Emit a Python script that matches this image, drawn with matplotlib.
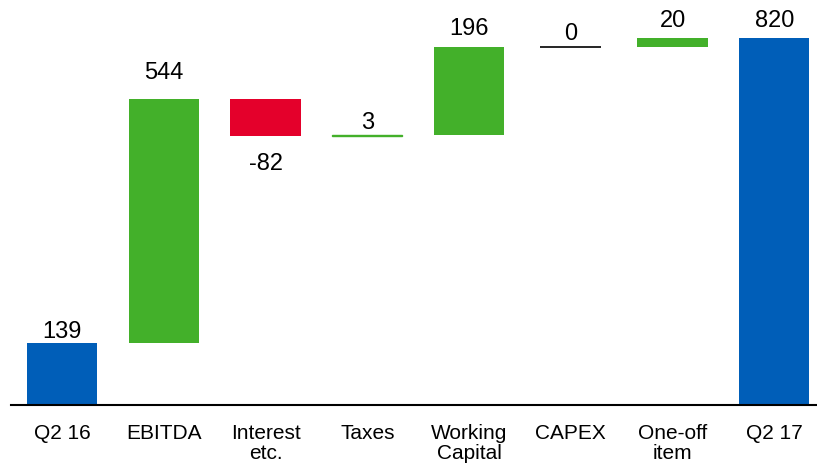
import matplotlib.pyplot as plt

plt.rcParams['font.family'] = ['Liberation Sans', 'DejaVu Sans']

# cash flow bridge, Q2 16 -> Q2 17
categories = ['Q2 16', 'EBITDA', 'Interest\netc.', 'Taxes', 'Working\nCapital',
              'CAPEX', 'One-off\nitem', 'Q2 17']
values = [139, 544, -82, 3, 196, 0, 20, 820]
is_total = [True, False, False, False, False, False, False, True]

BLUE = '#005EB8'
GREEN = '#43B02A'
RED = '#E4002B'

# gap between bar end and its value label, in pixels
label_gap = [4.5, 20, 17, 6, 12, 7, 11.5, 11]

fig = plt.figure(figsize=(8.17, 4.66), dpi=100)
ax = fig.add_axes([0, 61 / 466, 1, 1 - 61 / 466])

running = 0
for i, (v, total) in enumerate(zip(values, is_total)):
    if total:
        bottom = 0
        color = BLUE
    else:
        bottom = running
        color = GREEN if v >= 0 else RED
    top = bottom + v
    if v == 0:
        ax.hlines(top, i - 0.3, i + 0.3, color='black', lw=1.2)
    else:
        ax.bar(i, v, bottom=bottom, width=0.69, color=color,
               edgecolor=color, linewidth=1 if abs(v) < 10 else 0)
    if v >= 0:
        ax.annotate(str(v), (i, top), xytext=(0, label_gap[i]),
                    textcoords='offset pixels', ha='center', va='baseline',
                    fontsize=17)
    else:
        ax.annotate(str(v), (i, top), xytext=(0, -label_gap[i]),
                    textcoords='offset pixels', ha='center', va='top',
                    fontsize=17)
    running = top

ax.set_xlim(-0.61, 7.42)
ax.set_ylim(0, 905)
ax.set_xticks(range(len(categories)))
ax.set_xticklabels(categories, fontsize=15, linespacing=1.05)
ax.tick_params(axis='x', length=0, pad=14)
ax.set_yticks([])
for side in ['left', 'right', 'top']:
    ax.spines[side].set_visible(False)
ax.spines['bottom'].set_linewidth(1.5)
ax.spines['bottom'].set_bounds(-0.5, 7.42)

fig.savefig('out.png', dpi=100)
